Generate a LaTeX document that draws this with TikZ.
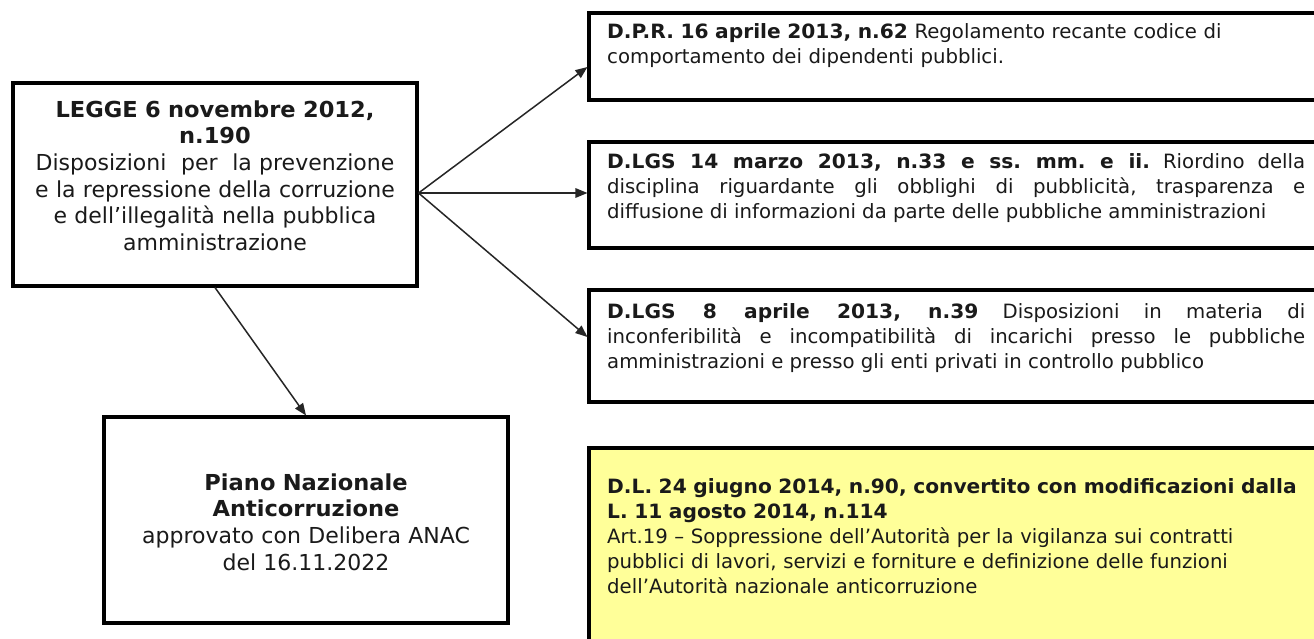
\documentclass[tikz,border=0pt]{standalone}
\usepackage{fontspec}
\setmainfont{DejaVu Sans}[BoldFeatures={FakeStretch=1.025}]
\usetikzlibrary{arrows.meta}
\definecolor{ink}{HTML}{1A1A1A}
\definecolor{notefill}{HTML}{FFFF99}
\tikzset{
  boxframe/.style={draw=black, line width=3.1pt, rectangle, inner sep=0pt},
  lefttext/.style={text=ink, align=center, text width=400pt, inner sep=0pt, anchor=base,
    font=\fontsize{22}{26.7}\selectfont},
  righttext/.style={text=ink, inner sep=0pt, anchor=base west,
    font=\fontsize{19.7}{25}\selectfont\frenchspacing},
  conn/.style={draw=black!85, line width=1.5pt, -{Triangle[length=12pt,width=9.5pt]}},
}
\begin{document}
\begin{tikzpicture}[x=1pt,y=-1pt]
\useasboundingbox (0,0) rectangle (1314,638);
\clip (0,0) rectangle (1314,638);
\fill[white] (0,0) rectangle (1314,638);

% left column boxes
\node[boxframe, minimum width=404pt, minimum height=203pt] (L) at (215,184.5) {};
\node[boxframe, minimum width=404pt, minimum height=206pt] (P) at (306,520) {};

% right column boxes
\node[boxframe, minimum width=741pt, minimum height=87pt]  (b1) at (959.5,56.5) {};
\node[boxframe, minimum width=741pt, minimum height=106pt] (b2) at (959.5,195) {};
\node[boxframe, minimum width=741pt, minimum height=112pt] (b3) at (959.5,346) {};
\node[boxframe, fill=notefill, minimum width=741pt, minimum height=212pt] (b4) at (959.5,554) {};

% texts
\node[lefttext] (Lt) at (215,117) {\textbf{LEGGE 6 novembre 2012,}\\\textbf{n.190}\\Disposizioni\ \ per\ \ la prevenzione\\e la repressione della corruzione\\e dell’illegalità nella pubblica\\amministrazione};
\node[lefttext] (Pt) at (306,490) {\textbf{Piano Nazionale}\\\textbf{Anticorruzione}\\approvato con Delibera ANAC\\del 16.11.2022};

\node[righttext, text width=698pt, align=left] (t1) at (607,38) {\textbf{D.P.R. 16 aprile 2013, n.62} Regolamento recante codice di\\comportamento dei dipendenti pubblici.};
\node[righttext, text width=698pt, align=justify] (t2) at (607,168) {\textbf{D.LGS 14 marzo 2013, n.33 e ss. mm. e ii.} Riordino della\linebreak disciplina riguardante gli obblighi di pubblicità, trasparenza e\linebreak diffusione di informazioni da parte delle pubbliche amministrazioni};
\node[righttext, text width=698pt, align=justify] (t3) at (607,318) {\textbf{D.LGS 8 aprile 2013, n.39} Disposizioni in materia di\linebreak inconferibilità e incompatibilità di incarichi presso le pubbliche\linebreak amministrazioni e presso gli enti privati in controllo pubblico};
\node[righttext, text width=720pt, align=left] (t4) at (607,493) {\textbf{D.L. 24 giugno 2014, n.90, convertito con modificazioni dalla}\\\textbf{L. 11 agosto 2014, n.114}\\Art.19 – Soppressione dell’Autorità per la vigilanza sui contratti\\pubblici di lavori, servizi e forniture e definizione delle funzioni\\dell’Autorità nazionale anticorruzione};

% connectors
\coordinate (hub) at ([yshift=-8.5pt]L.east);
\draw[conn] (hub) -- ([yshift=-10.5pt]b1.west);
\draw[conn] (hub) -- (hub -| b2.west);
\draw[conn] (hub) -- ([yshift=9pt]b3.west);
\draw[conn] (L.south) -- (P.north);
\end{tikzpicture}
\end{document}
